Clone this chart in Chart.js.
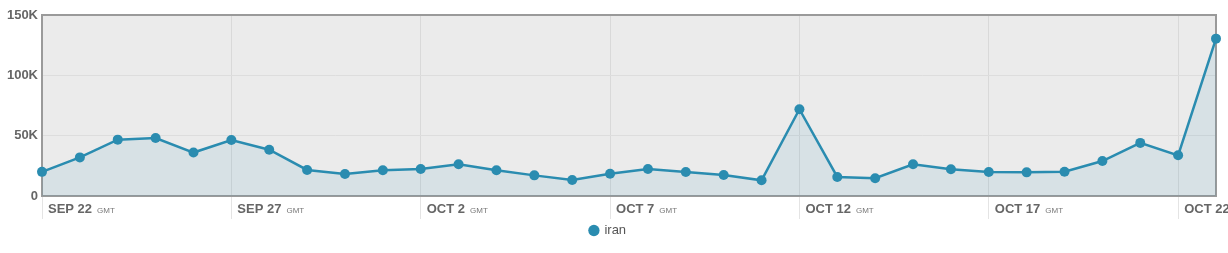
<!DOCTYPE html>
<html>
<head>
<meta charset="utf-8">
<script src="https://cdn.jsdelivr.net/npm/chart.js@4.4.1/dist/chart.umd.min.js"></script>
<style>
  html, body { margin: 0; padding: 0; background: #fff; }
  #caja { width: 1228px; height: 253px; }
</style>
</head>
<body>
<div id="caja"><canvas id="grafica"></canvas></div>
<script>
const dias = [
  "SEP 22", "SEP 23", "SEP 24", "SEP 25", "SEP 26", "SEP 27", "SEP 28", "SEP 29", "SEP 30",
  "OCT 1", "OCT 2", "OCT 3", "OCT 4", "OCT 5", "OCT 6", "OCT 7", "OCT 8", "OCT 9", "OCT 10",
  "OCT 11", "OCT 12", "OCT 13", "OCT 14", "OCT 15", "OCT 16", "OCT 17", "OCT 18", "OCT 19",
  "OCT 20", "OCT 21", "OCT 22", "OCT 23"
];

const iran = [
  20000, 32000, 46700, 48000, 36000, 46400, 38400, 21600, 18200,
  21300, 22400, 26300, 21300, 17100, 13300, 18500, 22400, 19900, 17400,
  13000, 71900, 15800, 14700, 26300, 22100, 19900, 19600, 20100,
  29000, 44000, 33700, 130400
];

const etiquetasX = ["SEP 22", "SEP 27", "OCT 2", "OCT 7", "OCT 12", "OCT 17", "OCT 22"];
const marcasY = [0, 50000, 100000, 150000];

const azul = "#2a8cb0";

// fondo gris y marco del area
const fondo = {
  id: "fondo",
  beforeDraw(chart) {
    const { ctx, chartArea: a } = chart;
    ctx.save();
    ctx.fillStyle = "#ebebeb";
    ctx.fillRect(a.left, a.top, a.right - a.left, a.bottom - a.top);
    ctx.restore();
  },
  beforeDatasetsDraw(chart) {
    const { ctx, chartArea: a } = chart;
    ctx.save();
    ctx.strokeStyle = "#9a9a9a";
    ctx.lineWidth = 2;
    ctx.strokeRect(a.left, a.top, a.right - a.left, a.bottom - a.top);
    ctx.restore();
  }
};

// etiquetas de fecha con "GMT" pequeño
const fechas = {
  id: "fechas",
  afterDraw(chart) {
    const { ctx } = chart;
    const x = chart.scales.x;
    const base = chart.chartArea.bottom + 17;
    ctx.save();
    ctx.textBaseline = "alphabetic";
    dias.forEach((d, i) => {
      if (!etiquetasX.includes(d)) return;
      const px = x.getPixelForValue(i) + 6;
      ctx.font = "bold 13px 'Liberation Sans', Arial, sans-serif";
      ctx.fillStyle = "#666";
      ctx.fillText(d, px, base);
      const w = ctx.measureText(d).width;
      ctx.font = "8px 'Liberation Sans', Arial, sans-serif";
      ctx.fillStyle = "#777";
      ctx.fillText("GMT", px + w + 5, base);
    });
    ctx.restore();
  }
};

new Chart(document.getElementById("grafica"), {
  type: "line",
  data: {
    labels: dias,
    datasets: [{
      label: "iran",
      data: iran,
      borderColor: azul,
      borderWidth: 2.5,
      backgroundColor: "rgba(42,140,176,0.1)",
      fill: "origin",
      pointRadius: 5,
      pointHoverRadius: 5,
      pointBackgroundColor: azul,
      pointBorderColor: azul,
      pointBorderWidth: 0,
      tension: 0,
      clip: false
    }]
  },
  options: {
    responsive: true,
    maintainAspectRatio: false,
    animation: false,
    layout: { padding: { top: 15, right: 12, left: 0, bottom: 6 } },
    plugins: {
      tooltip: { enabled: false },
      legend: {
        position: "bottom",
        labels: {
          usePointStyle: true,
          pointStyle: "circle",
          boxWidth: 8,
          boxHeight: 8,
          padding: 6,
          color: "#555",
          font: { family: "'Liberation Sans', Arial, sans-serif", size: 13 }
        }
      }
    },
    scales: {
      x: {
        type: "category",
        offset: false,
        border: { display: false },
        grid: {
          drawOnChartArea: true,
          drawTicks: true,
          tickLength: 23,
          color: ctx => etiquetasX.includes(dias[ctx.index]) ? "#d9d9d9" : "rgba(0,0,0,0)",
          tickColor: ctx => etiquetasX.includes(dias[ctx.index]) ? "#e4e4e4" : "rgba(0,0,0,0)"
        },
        ticks: { display: false, autoSkip: false },
        afterFit(scale) { scale.height = 22; }
      },
      y: {
        min: 0,
        max: 150000,
        border: { display: false },
        afterBuildTicks(scale) { scale.ticks = marcasY.map(v => ({ value: v })); },
        grid: { color: "#dddddd", drawTicks: false },
        ticks: {
          padding: 4,
          color: "#666",
          font: { family: "'Liberation Sans', Arial, sans-serif", size: 13, weight: "bold" },
          callback: v => v === 0 ? "0" : (v / 1000) + "K"
        },
        afterFit(scale) { scale.width = 42; }
      }
    }
  },
  plugins: [fondo, fechas]
});
</script>
</body>
</html>
